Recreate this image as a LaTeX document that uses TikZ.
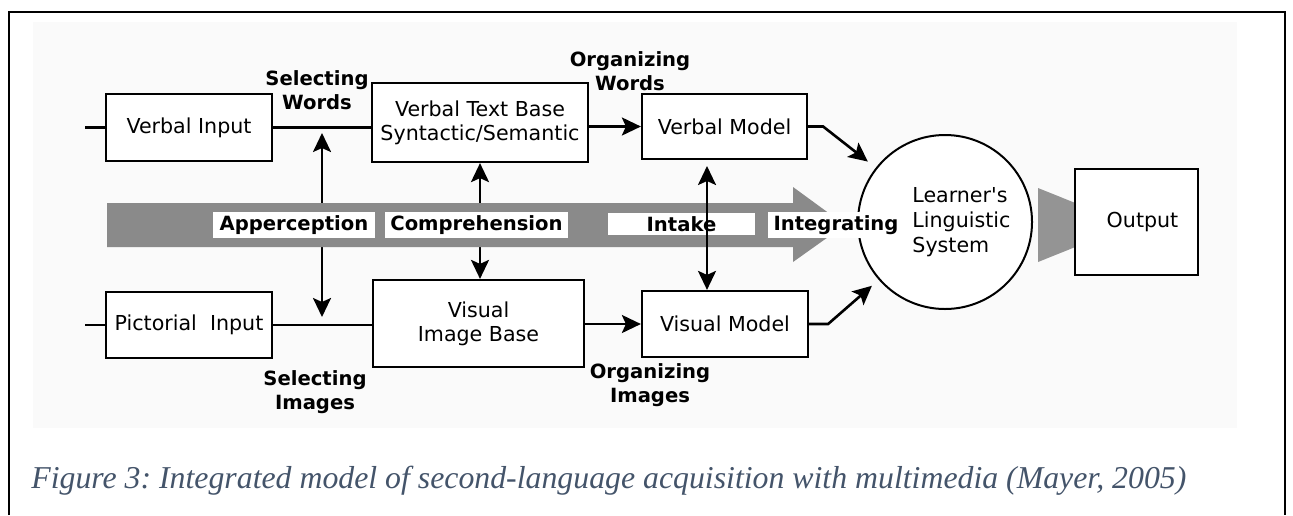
\documentclass[tikz,border=0pt]{standalone}
\usepackage{fontspec}
\newfontfamily\diafont{DejaVu Sans}
\newfontfamily\capfont{Liberation Serif}
\usetikzlibrary{arrows.meta, calc}
\definecolor{bandgray}{HTML}{8A8A8A}
\definecolor{headgray}{HTML}{949494}
\definecolor{capblue}{HTML}{44546A}
\definecolor{paper}{HTML}{FAFAFA}

\begin{document}
\begin{tikzpicture}[x=0.5pt, y=-0.5pt,
    box/.style={draw, line width=1.1pt, fill=white, inner sep=0pt, align=center,
      font=\diafont\fontsize{10.3}{12}\selectfont},
    steplabel/.style={align=center, font=\diafont\bfseries\fontsize{9.8}{12}\selectfont},
    bandlabel/.style={fill=white, inner sep=0pt, minimum height=13pt,
      font=\diafont\bfseries\fontsize{9.8}{12}\selectfont},
    arr/.style={line width=1.3pt, -{Stealth[length=9.5pt, width=9pt, inset=2pt]}},
    darr/.style={line width=1.3pt, {Stealth[length=9.5pt, width=9pt, inset=2pt]}-{Stealth[length=9.5pt, width=9pt, inset=2pt]}},
    plain/.style={line width=1.3pt}]
            \useasboundingbox (0,0) rectangle (1293,515);
            \fill[paper] (33,22) rectangle (1237,428);
            \draw[line width=1pt] (9,515) -- (9,12) -- (1285,12) -- (1285,515);

            \node[box, minimum width=83pt, minimum height=33.5pt] (vin) at (189,127.5) {Verbal Input};
            \node[box, minimum width=108pt, minimum height=39.5pt] (vtb) at (480,122.5) {Verbal Text Base\\Syntactic/Semantic};
            \node[box, minimum width=82.5pt, minimum height=32.5pt] (vm) at (724.5,126.5) {Verbal Model};
            \node[box, minimum width=83pt, minimum height=33pt] (pin) at (189,325) {Pictorial\ \ Input};
            \node[box, minimum width=105.5pt, minimum height=43.5pt] (vib) at (478.5,323.5) {Visual\\Image Base};
            \node[box, minimum width=83pt, minimum height=33pt] (vism) at (725,324) {Visual Model};

            \coordinate (vstub) at (85,127.5);
            \coordinate (pstub) at (85,325);
            \coordinate (selw) at (322,133);
            \coordinate (seli) at (322,317);
            \coordinate (intk) at (707,166);

            \draw[plain] (vstub) -- (vin.west);
            \draw[plain] (vin.east) -- (vin.east -| vtb.west);
            \draw[arr] (vtb.east |- vm.west) -- (vm.west);
            \draw[plain] (pstub) -- (pin.west);
            \draw[plain] (pin.east) -- (pin.east -| vib.west);
            \draw[arr] (vib.east |- vism.west) -- (vism.west);

            \draw[darr] (selw) -- (seli);
            \draw[darr] (vtb.south) -- (vtb.south |- vib.north);

            \fill[bandgray] (107,203) -- (793,203) -- (793,187) -- (845,225) -- (793,262) -- (793,247) -- (107,247) -- cycle;
            \fill[headgray] (1038,188) -- (1130,225) -- (1038,262) -- cycle;

            \node[bandlabel, minimum width=81pt] (apper) at (294,225) {Apperception};
            \node[bandlabel, minimum width=91.5pt] (compr) at (476.5,225) {Comprehension};
            \node[bandlabel, minimum width=73.5pt, minimum height=11pt] (intake) at (681.5,224) {Intake};
            \draw[darr] (intk) -- (intk |- vism.north);

            \node[draw, circle, line width=1pt, fill=white, minimum size=87pt, inner sep=0pt] (lls) at (945,222) {};
            \node[anchor=west, align=left, inner sep=0pt, font=\diafont\fontsize{10.3}{12.5}\selectfont] (llstext) at (912,222) {Learner's\\Linguistic\\System};
            \node[bandlabel, minimum width=68.5pt] (integ) at (836,225) {Integrating};
            \node[box, minimum width=61.5pt, minimum height=53pt, text width=61.5pt, align=center] (out) at (1136.5,222) {\hspace*{6pt}Output};

            \draw[arr, shorten >=5pt] (vm.east) -- ++(15,0) -- (lls);
            \draw[arr, shorten >=4.5pt] (vism.east) -- ++(19,0) -- (lls);

            \node[steplabel] (selwords) at (317,90.5) {Selecting\\Words};
            \node[steplabel] (orgwords) at (630,71.5) {Organizing\\Words};
            \node[steplabel] (selimages) at (315,392.5) {Selecting\\Images};
            \node[steplabel] (orgimages) at (650,385) {Organizing\\Images};

            \node[anchor=base west, inner sep=0pt, text=capblue, font=\capfont\itshape\fontsize{15.9}{19}\selectfont\frenchspacing] (caption) at (31,488) {Figure 3: Integrated model of second-language acquisition with multimedia (Mayer, 2005)};
        \end{tikzpicture}
\end{document}
